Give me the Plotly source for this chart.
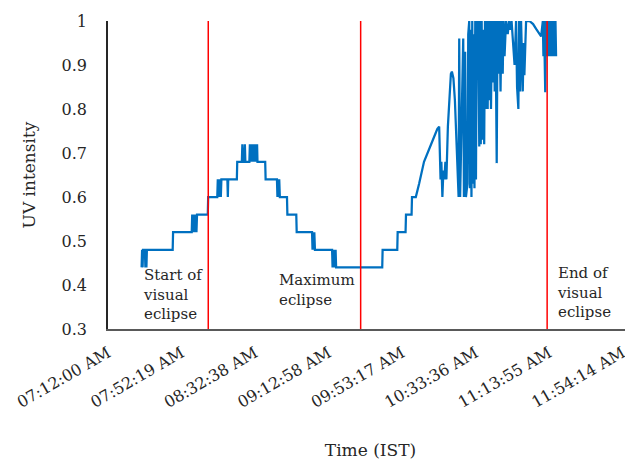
import plotly.graph_objects as go

DAY = "2019-12-26"

time_ist = [
    "07:30:26", "07:30:42", "07:30:59", "07:31:15", "07:32:14", "07:32:31", "07:32:47", "07:33:04", "07:33:20",
    "07:47:29", "07:47:42",
    "07:57:56", "07:58:12", "07:58:32", "07:58:52", "07:59:11", "07:59:31", "07:59:51", "08:00:11", "08:00:31", "08:00:50",
    "08:06:44", "08:06:57",
    "08:11:57", "08:12:14", "08:12:33", "08:12:53", "08:13:13", "08:13:33", "08:13:53", "08:14:12",
    "08:17:30", "08:17:44", "08:17:57",
    "08:22:41", "08:22:54",
    "08:25:26", "08:25:42", "08:25:59", "08:26:48", "08:27:05", "08:27:21",
    "08:29:33", "08:29:50", "08:30:09", "08:30:29", "08:30:49", "08:31:09", "08:31:29", "08:31:48",
    "08:32:08", "08:32:28", "08:32:48", "08:33:08", "08:33:27", "08:33:47", "08:34:00",
    "08:38:14", "08:38:28",
    "08:44:41", "08:44:57", "08:45:17", "08:45:37", "08:45:56", "08:46:16",
    "08:50:11", "08:50:24",
    "08:55:17", "08:55:31",
    "09:03:56", "09:04:12", "09:04:32", "09:04:52", "09:05:11", "09:05:31",
    "09:14:56", "09:15:12", "09:15:32", "09:15:52", "09:16:11", "09:16:31", "09:16:51", "09:17:08",
    "09:42:26", "09:42:39",
    "09:50:41", "09:50:54",
    "09:55:14", "09:55:28",
    "09:58:32", "09:58:46",
    "10:00:51", "10:02:40", "10:05:21", "10:10:55", "10:12:41", "10:13:40",
    "10:14:03", "10:14:26", "10:14:53", "10:15:26", "10:15:59", "10:16:32", "10:17:05", "10:17:38",
    "10:18:27", "10:19:17", "10:20:06", "10:20:39", "10:21:29", "10:22:18", "10:23:08", "10:23:57", "10:24:20",
    "10:24:40", "10:25:10", "10:26:52", "10:27:15", "10:27:55", "10:28:21", "10:29:11", "10:29:37",
    "10:30:10", "10:30:33", "10:30:59", "10:31:23", "10:31:49", "10:32:12", "10:32:38", "10:33:02",
    "10:33:28", "10:33:51", "10:34:17", "10:34:41", "10:35:07", "10:35:40", "10:36:03", "10:36:29",
    "10:36:59", "10:37:26", "10:37:52", "10:38:22", "10:38:48", "10:39:21", "10:39:47", "10:40:17",
    "10:40:44", "10:41:10", "10:41:40", "10:42:06", "10:42:39", "10:43:12", "10:43:45", "10:44:08",
    "10:44:35", "10:45:14", "10:45:41", "10:46:14", "10:46:47", "10:47:20", "10:47:53", "10:48:32",
    "10:48:59", "10:49:32", "10:50:21", "10:51:17", "10:52:00", "10:52:33", "10:53:23", "10:54:12",
    "10:55:02", "10:55:51", "10:56:24", "10:57:07", "10:57:30", "10:58:03", "10:58:36", "10:59:32",
    "10:59:59", "11:00:25", "11:01:21", "11:03:10", "11:05:12", "11:06:51", "11:08:30", "11:09:36",
    "11:10:32", "11:10:52", "11:11:12", "11:11:32", "11:11:51", "11:12:11", "11:12:31", "11:12:51",
    "11:13:11", "11:13:30", "11:13:50", "11:14:10", "11:14:30", "11:14:50", "11:15:09", "11:15:29",
    "11:15:49", "11:16:09", "11:16:29", "11:16:48", "11:17:08", "11:17:28", "11:17:48",
]

uv_intensity = [
    0.44, 0.48, 0.44, 0.48, 0.48, 0.44, 0.48, 0.44, 0.48,
    0.48, 0.52,
    0.52, 0.56, 0.52, 0.56, 0.52, 0.56, 0.52, 0.56, 0.52, 0.56,
    0.56, 0.60,
    0.60, 0.64, 0.60, 0.64, 0.60, 0.64, 0.60, 0.64,
    0.64, 0.60, 0.64,
    0.64, 0.68,
    0.68, 0.72, 0.68, 0.68, 0.72, 0.68,
    0.68, 0.72, 0.68, 0.72, 0.68, 0.72, 0.68, 0.72,
    0.68, 0.72, 0.68, 0.72, 0.68, 0.72, 0.68,
    0.68, 0.64,
    0.64, 0.60, 0.64, 0.60, 0.64, 0.60,
    0.60, 0.56,
    0.56, 0.52,
    0.52, 0.48, 0.52, 0.48, 0.52, 0.48,
    0.48, 0.44, 0.48, 0.44, 0.48, 0.44, 0.48, 0.44,
    0.44, 0.48,
    0.48, 0.52,
    0.52, 0.56,
    0.56, 0.60,
    0.60, 0.63, 0.68, 0.737, 0.755, 0.76,
    0.72, 0.64, 0.68, 0.60, 0.66, 0.64, 0.68, 0.64,
    0.76, 0.84, 0.88, 0.885, 0.87, 0.82, 0.74, 0.64, 0.60,
    0.96, 0.60, 0.96, 0.60, 0.93, 0.60, 0.63, 0.97,
    1.00, 0.62, 0.98, 0.60, 1.00, 0.63, 0.97, 0.62,
    1.00, 0.64, 1.00, 0.92, 1.00, 0.715, 1.00, 0.72,
    1.00, 0.73, 0.98, 0.72, 1.00, 0.80, 1.00, 0.80,
    1.00, 0.82, 1.00, 0.80, 1.00, 0.86, 1.00, 0.84,
    1.00, 0.677, 1.00, 0.88, 1.00, 0.84, 1.00, 0.88,
    1.00, 0.92, 1.00, 0.97, 1.00, 0.98, 1.00, 0.96,
    0.90, 1.00, 0.85, 0.80, 1.00, 0.84, 1.00, 0.84,
    0.95, 0.877, 1.00, 1.00, 0.993, 0.982, 0.97, 0.965,
    1.00, 0.92, 1.00, 0.92, 0.838, 1.00, 0.92, 1.00,
    0.92, 1.00, 0.92, 1.00, 0.92, 1.00, 0.92, 1.00,
    0.92, 1.00, 0.92, 1.00, 0.92, 1.00, 0.92,
]

event_times = ["08:07:00", "09:30:36", "11:12:54"]
event_labels = ["Start of<br>visual<br>eclipse", "Maximum<br>eclipse", "End of<br>visual<br>eclipse"]

tick_times = ["07:12:00", "07:52:19", "08:32:38", "09:12:58", "09:53:17", "10:33:36", "11:13:55", "11:54:14"]
tick_labels = ["07:12:00 AM", "07:52:19 AM", "08:32:38 AM", "09:12:58 AM",
               "09:53:17 AM", "10:33:36 AM", "11:13:55 AM", "11:54:14 AM"]

y_ticks = [0.3, 0.4, 0.5, 0.6, 0.7, 0.8, 0.9, 1.0]
y_tick_labels = ["0.3", "0.4", "0.5", "0.6", "0.7", "0.8", "0.9", "1"]


def ts(t):
    return f"{DAY} {t}"


FONT = "DejaVu Serif"
TXT = "#262626"

fig = go.Figure()
fig.add_trace(go.Scatter(
    x=[ts(t) for t in time_ist], y=uv_intensity, mode="lines",
    line=dict(color="#0070C0", width=2.25), showlegend=False, hoverinfo="skip",
))

for t in event_times:
    fig.add_shape(type="line", xref="x", yref="y", x0=ts(t), x1=ts(t), y0=0.3, y1=1.0,
                  line=dict(color="#FF0000", width=1.5))

label_pos = [("07:30:00", 0.448), ("08:44:30", 0.437), ("11:17:00", 0.452)]
for (lx, ly), txt in zip(label_pos, event_labels):
    fig.add_annotation(x=ts(lx), y=ly, xref="x", yref="y", text=txt, showarrow=False,
                       xanchor="left", yanchor="top", align="left",
                       font=dict(family=FONT, size=15, color=TXT))

# the page body adds an 8px margin, so the figure is sized to fit the 633x460 window
fig.update_layout(
    width=625, height=452,
    margin=dict(l=100, r=0, t=13, b=131),
    plot_bgcolor="white", paper_bgcolor="white",
    font=dict(family=FONT, size=16, color=TXT),
    showlegend=False,
    xaxis=dict(
        type="date", range=[ts("07:12:00"), ts("12:00:00")], automargin=False,
        tickmode="array", tickvals=[ts(t) for t in tick_times], ticktext=tick_labels,
        tickangle=-30, tickfont=dict(family=FONT, size=16, color=TXT),
        ticklabeloverflow="allow",
        showline=True, linecolor="#595959", linewidth=1.5,
        showgrid=False, zeroline=False,
        ticks="outside", ticklen=7, tickcolor="rgba(0,0,0,0)",
        title=dict(text="Time (IST)", font=dict(family=FONT, size=17, color=TXT), standoff=33),
    ),
    yaxis=dict(
        range=[0.3, 1.0], automargin=False,
        tickmode="array", tickvals=y_ticks, ticktext=y_tick_labels,
        tickfont=dict(family=FONT, size=16, color=TXT),
        showline=True, linecolor="#262626", linewidth=1.5,
        showgrid=False, zeroline=False, ticks="outside", ticklen=16, tickcolor="rgba(0,0,0,0)",
        title=dict(text="UV intensity", font=dict(family=FONT, size=17, color=TXT), standoff=22),
    ),
)

fig.write_html("out.html")
